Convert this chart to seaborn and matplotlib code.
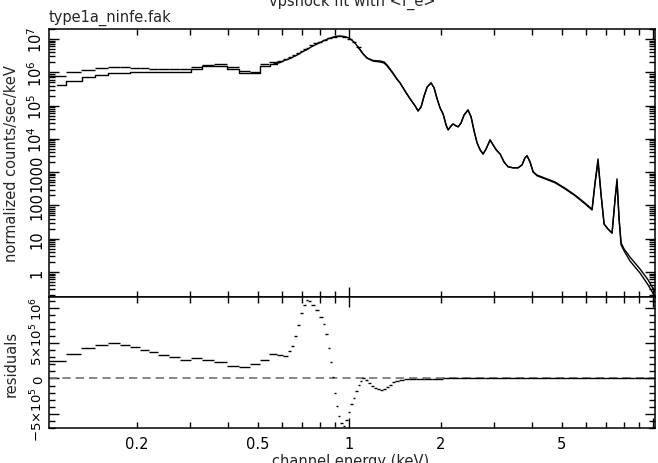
import numpy as np
import seaborn as sns
import matplotlib
matplotlib.use('Agg')
from matplotlib import pyplot as plt
from matplotlib import ticker

## Data (keV, counts/sec/keV)
energy = [0.1095, 0.1246, 0.139, 0.1534, 0.1686, 0.1833, 0.1977, 0.2118, 0.2267, 0.2443,
          0.2656, 0.289, 0.314, 0.3436, 0.3765, 0.415, 0.455, 0.491, 0.5295, 0.565,
          0.593, 0.618, 0.640, 0.659, 0.680, 0.695, 0.711, 0.728, 0.750, 0.773,
          0.797, 0.828, 0.8596, 0.8995, 0.927, 0.963, 1.0, 1.038, 1.071, 1.112,
          1.146, 1.199, 1.265, 1.304, 1.333, 1.364, 1.395, 1.438, 1.472, 1.528,
          1.588, 1.649, 1.686, 1.725, 1.765, 1.806, 1.861, 1.904, 1.948, 1.992,
          2.038, 2.085, 2.117, 2.165, 2.198, 2.249, 2.284, 2.335, 2.389, 2.461,
          2.519, 2.577, 2.636, 2.697, 2.759, 2.823, 2.91, 2.977, 3.046, 3.14,
          3.236, 3.334, 3.464, 3.597, 3.707, 3.79, 3.85, 3.94, 4.03, 4.15,
          4.41, 4.58, 4.76, 4.94, 5.13, 5.54, 5.97, 6.30, 6.44, 6.59,
          6.74, 6.90, 7.11, 7.33, 7.50, 7.61, 7.73, 7.85, 8.03, 8.40,
          9.06, 9.63, 10.15]
model_counts = [4.2e5, 5.5e5, 7.2e5, 8.3e5, 9.2e5, 9.5e5, 9.9e5, 9.9e5, 9.9e5, 9.9e5,
                9.9e5, 1.02e6, 1.26e6, 1.50e6, 1.55e6, 1.26e6, 9.5e5, 9.2e5, 1.55e6, 1.78e6,
                1.97e6, 2.34e6, 2.60e6, 2.99e6, 3.43e6, 3.94e6, 4.37e6, 4.84e6, 5.75e6, 6.61e6,
                7.59e6, 9.02e6, 1.04e7, 1.19e7, 1.23e7, 1.19e7, 1.07e7, 8.13e6, 5.75e6, 3.55e6,
                2.69e6, 2.26e6, 2.19e6, 2.04e6, 1.66e6, 1.26e6, 9.5e5, 6.3e5, 4.8e5, 2.75e5,
                1.58e5, 9.8e4, 6.9e4, 9.1e4, 1.95e5, 3.6e5, 4.8e5, 3.4e5, 1.58e5, 8.5e4,
                5.6e4, 2.6e4, 1.86e4, 2.45e4, 2.8e4, 2.45e4, 2.3e4, 3.0e4, 5.2e4, 7.4e4,
                4.6e4, 1.74e4, 7.6e3, 4.7e3, 3.5e3, 5.0e3, 9.3e3, 6.6e3, 4.7e3, 3.5e3,
                2.0e3, 1.45e3, 1.35e3, 1.35e3, 1.66e3, 2.7e3, 3.1e3, 2.0e3, 1.02e3, 780,
                630, 550, 480, 390, 316, 195, 112, 73, 450, 2.0e3,
                224, 27.5, 19.5, 14.8, 158, 510, 39, 6.5, 4.3, 2.14,
                0.93, 0.41, 0.18]
data_counts = [7.8e5, 9.9e5, 1.17e6, 1.30e6, 1.40e6, 1.40e6, 1.35e6, 1.30e6, 1.26e6, 1.26e6,
               1.22e6, 1.26e6, 1.40e6, 1.66e6, 1.72e6, 1.45e6, 1.10e6, 1.02e6, 1.72e6, 1.97e6,
               2.19e6, 2.51e6, 2.88e6, 3.31e6, 3.80e6, 4.37e6, 4.84e6, 5.37e6, 6.38e6, 7.33e6,
               8.24e6, 9.46e6, 1.05e7, 1.17e7, 1.19e7, 1.12e7, 1.01e7, 7.85e6, 5.70e6, 3.55e6,
               2.66e6, 2.17e6, 2.03e6, 1.90e6, 1.55e6, 1.19e6, 9.1e5, 6.1e5, 4.7e5, 2.7e5,
               1.58e5, 9.8e4, 6.9e4, 9.1e4, 1.95e5, 3.6e5, 4.8e5, 3.4e5, 1.58e5, 8.5e4,
               5.6e4, 2.6e4, 1.86e4, 2.45e4, 2.8e4, 2.45e4, 2.3e4, 3.0e4, 5.2e4, 7.4e4,
               4.6e4, 1.74e4, 7.6e3, 4.7e3, 3.5e3, 5.0e3, 9.3e3, 6.6e3, 4.7e3, 3.5e3,
               2.0e3, 1.45e3, 1.35e3, 1.35e3, 1.66e3, 2.7e3, 3.1e3, 2.0e3, 1.02e3, 820,
               660, 580, 505, 410, 332, 205, 118, 77, 470, 2.5e3,
               224, 27.5, 19.5, 14.8, 158, 630, 39, 7.5, 4.9, 2.8,
               1.23, 0.58, 0.25]

res_energy = [0.1095, 0.1246, 0.139, 0.1534, 0.1686, 0.1833, 0.1977, 0.2118, 0.2267, 0.2443,
              0.2656, 0.289, 0.314, 0.3436, 0.3765, 0.415, 0.455, 0.491, 0.5295, 0.565,
              0.593, 0.618, 0.640, 0.652, 0.667, 0.680, 0.695, 0.711, 0.728, 0.741,
              0.762, 0.785, 0.809, 0.828, 0.843, 0.856, 0.873, 0.886, 0.8995, 0.913,
              0.927, 0.945, 0.963, 0.981, 1.0, 1.019, 1.038, 1.059, 1.079, 1.095,
              1.112, 1.137, 1.164, 1.190, 1.218, 1.246, 1.274, 1.304, 1.333, 1.364,
              1.395, 1.438, 1.483, 1.540, 1.611, 1.713, 1.82, 1.932, 2.148, 2.50,
              3.14, 4.25, 5.75, 7.79, 9.77]
residuals = [2.5e5, 3.5e5, 4.4e5, 4.8e5, 5.0e5, 4.8e5, 4.5e5, 4.1e5, 3.7e5, 3.3e5,
             3.0e5, 2.7e5, 2.9e5, 2.7e5, 2.3e5, 1.8e5, 1.7e5, 2.0e5, 2.6e5, 3.45e5,
             3.35e5, 3.2e5, 3.85e5, 4.65e5, 6.0e5, 7.6e5, 9.3e5, 1.05e6, 1.11e6, 1.10e6,
             1.04e6, 9.7e5, 8.7e5, 7.8e5, 6.3e5, 4.4e5, 2.3e5, 2.0e4, -2.0e5, -3.9e5,
             -5.4e5, -6.4e5, -6.7e5, -5.9e5, -4.8e5, -3.7e5, -2.8e5, -1.8e5, -9.0e4, -4.0e4,
             0.0, -2.0e4, -6.0e4, -1.0e5, -1.35e5, -1.55e5, -1.6e5, -1.45e5, -1.2e5, -9.0e4,
             -5.5e4, -3.0e4, -1.5e4, -8.0e3, -5.0e3, -8.0e3, -5.0e3, -2.0e3, 0.0, 0.0,
             0.0, 0.0, 0.0, 0.0, 0.0]


def bin_halfwidths(e):
    # contiguous bins, edges half way (in log) between neighbouring centres
    e = np.asarray(e)
    edges = np.sqrt(e[1:] * e[:-1])
    left = np.concatenate([[e[0] ** 2 / edges[0]], edges])
    right = np.concatenate([edges, [e[-1] ** 2 / edges[-1]]])
    return np.vstack([e - left, right - e])


sns.set_style('ticks')
plt.rcParams['font.family'] = ['DejaVu Sans']
plt.rcParams['font.size'] = 10.5
plt.rcParams['mathtext.fontset'] = 'dejavusans'

fig = plt.figure(figsize=(6.58, 4.64), dpi=100)
ax_top = fig.add_axes([0.0745, 0.3578, 0.9210, 0.5776])
ax_res = fig.add_axes([0.0745, 0.0754, 0.9210, 0.2824])

for ax in (ax_top, ax_res):
    ax.set_xscale('log')
ax_top.set_yscale('log')

## Spectrum panel: model as a histogram at low energy, smooth line above
e_arr = np.asarray(energy)
m_arr = np.asarray(model_counts)
d_arr = np.asarray(data_counts)
low = e_arr <= 0.6
high = e_arr >= 0.565
sns.lineplot(x=e_arr[low], y=m_arr[low], ax=ax_top, color='k', lw=1.0,
             drawstyle='steps-mid', legend=False)
sns.lineplot(x=e_arr[high], y=m_arr[high], ax=ax_top, color='k', lw=1.0, legend=False)

# data: crosses where the bins are wide, densely binned part drawn as a line
wide = e_arr < 1.1
ax_top.errorbar(e_arr[wide], d_arr[wide], xerr=bin_halfwidths(energy)[:, wide], fmt='none',
                ecolor='k', elinewidth=1.0)
dense = e_arr >= 1.07
sns.lineplot(x=e_arr[dense], y=d_arr[dense], ax=ax_top, color='k', lw=1.0, legend=False)
ax_top.set_ylim(0.178, 2.0e7)
ax_top.set_ylabel('normalized counts/sec/keV')

## Residual panel
ax_res.axhline(0, color='0.45', lw=1.2, ls=(0, (5, 3)))
ax_res.errorbar(res_energy, residuals, xerr=bin_halfwidths(res_energy), fmt='none',
                ecolor='k', elinewidth=1.0)
ax_res.set_ylim(-7.05e5, 1.16e6)
ax_res.set_ylabel('residuals')

for ax in (ax_top, ax_res):
    ax.set_xlim(0.103, 10.15)
    ax.xaxis.set_major_locator(ticker.FixedLocator([1.0, 10.0]))
    ax.xaxis.set_minor_locator(ticker.LogLocator(base=10, subs=np.arange(2, 10)))
    ax.tick_params(which='both', direction='in', top=True, right=True, width=1.0,
                   colors='k', labelsize=10.5)
    ax.tick_params(which='major', length=7)
    ax.tick_params(which='minor', length=4)
    ax.tick_params(axis='y', labelrotation=90, pad=3)
    for sp in ax.spines.values():
        sp.set_linewidth(1.1)
        sp.set_color('k')
    ax.yaxis.set_label_coords(-0.0495, 0.5)

ax_top.tick_params(axis='x', which='both', labelbottom=False)

# y ticks, spectrum
ax_top.yaxis.set_major_locator(ticker.FixedLocator([1, 10, 100, 1000, 1e4, 1e5, 1e6, 1e7]))
ax_top.yaxis.set_major_formatter(ticker.FixedFormatter(
    ['1', '10', '100', '1000', r'$10^4$', r'$10^5$', r'$10^6$', r'$10^7$']))
ax_top.yaxis.set_minor_locator(ticker.LogLocator(base=10, subs=np.arange(2, 10), numticks=20))
ax_top.yaxis.set_minor_formatter(ticker.NullFormatter())

# y ticks, residuals
ax_res.yaxis.set_major_locator(ticker.FixedLocator([-5e5, 0, 5e5, 1e6]))
ax_res.yaxis.set_major_formatter(ticker.FixedFormatter(
    [r'$-5{\times}10^5$', '0', r'$5{\times}10^5$', r'$10^6$']))
ax_res.yaxis.set_minor_locator(ticker.MultipleLocator(1e5))
ax_res.tick_params(axis='y', labelsize=9.5)

# x labels on the residual panel
ax_res.xaxis.set_major_formatter(ticker.FixedFormatter(['1', '']))
ax_res.xaxis.set_minor_formatter(ticker.FuncFormatter(
    lambda v, pos: ('%g' % v) if round(v, 3) in (0.2, 0.5, 2.0, 5.0) else ''))
ax_res.tick_params(axis='x', which='both', pad=6)

for lbl in ax_top.get_yticklabels() + ax_res.get_yticklabels():
    lbl.set_va('center')

fig.text(0.0745, 1 - 22 / 464, 'type1a_ninfe.fak', ha='left', va='baseline', fontsize=10.5)
fig.text(0.535, 1 - 6 / 464, 'vpshock fit with <f_e>', ha='center', va='baseline', fontsize=10.5)
fig.text(0.533, 1 - 462 / 464, 'channel energy (keV)', ha='center', va='center', fontsize=10.5)

fig.savefig('out.png', dpi=100)
